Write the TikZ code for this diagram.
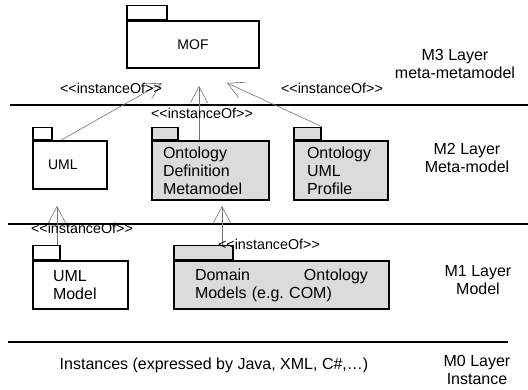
\documentclass[tikz,border=0pt]{standalone}
\usepackage{fontspec}
\setmainfont{Liberation Sans}
\usetikzlibrary{arrows.meta}
\newcommand\instof{<\kern0pt<instanceOf>\kern0pt>}
\frenchspacing

\begin{document}
\begin{tikzpicture}[x=1pt,y=-1pt]
	\tikzstyle{package}=[draw,line width=1.6pt,inner sep=0pt,fill=white,font=\fontsize{16}{18}\selectfont]
	\tikzstyle{shaded}=[fill=black!14]
	\tikzstyle{tab}=[draw,line width=1.6pt,inner sep=0pt,fill=white,anchor=south west]
	\tikzstyle{inst}=[draw,line width=0.6pt,black!55,-{Straight Barb[length=16pt,width=17pt]}]
	\tikzstyle{lbl}=[font=\fontsize{14.3}{16}\selectfont,inner sep=0pt]
	\tikzstyle{layer}=[font=\fontsize{16}{18}\selectfont,align=center,inner sep=0pt]
	\tikzstyle{sep}=[draw,line width=1.7pt]

	\useasboundingbox (0,0) rectangle (528,390);

	% M3
	\node[package,minimum width=132pt,minimum height=47pt,font=\fontsize{14}{16}\selectfont] (mof) at (193,44.5) {MOF};
	\node[tab,minimum width=40pt,minimum height=14pt] (moftab) at (mof.north west) {};

	% M2
	\node[package,minimum width=74pt,minimum height=48pt,text width=44pt,inner xsep=15pt,align=left,font=\fontsize{14}{16}\selectfont] (uml) at (70,165) {UML};
	\node[tab,minimum width=19pt,minimum height=12pt] (umltab) at (uml.north west) {};

	\node[package,shaded,minimum width=117pt,minimum height=59pt,text width=95pt,inner xsep=11pt,align=left] (odm) at (210.5,170.5) {Ontology\\Definition\\Metamodel};
	\node[tab,shaded,minimum width=26pt,minimum height=12pt] (odmtab) at (odm.north west) {};

	\node[package,shaded,minimum width=94pt,minimum height=59pt,text width=68pt,inner xsep=13pt,align=left] (oup) at (341,170.5) {Ontology\\UML\\Profile};
	\node[tab,shaded,minimum width=27pt,minimum height=12pt] (ouptab) at (oup.north west) {};

	% M1
	\node[package,minimum width=95pt,minimum height=48pt,text width=55pt,inner xsep=20pt,align=left] (umlm) at (80.5,285) {UML\\Model};
	\node[tab,minimum width=27pt,minimum height=14pt] (umlmtab) at (umlm.north west) {};

	\node[package,shaded,minimum width=215pt,minimum height=48pt,text width=173pt,inner xsep=21pt,align=left] (dom) at (281.5,285) {\makebox[173pt]{Domain\hfill Ontology}\\Models (e.g. COM)};
	\node[tab,shaded,minimum width=59pt,minimum height=14pt] (domtab) at (dom.north west) {};

	% layer borders
	\draw[sep] (10,105) -- (340,105);
	\draw[line width=1.1pt] (340,105) -- (528,105);
	\draw[sep] (8,224) -- (528,224);
	\draw[sep] (8,342) -- (508,342);

	% instanceOf arrows
	\coordinate (tipA) at (162,83);
	\coordinate (tipB) at (199,86);
	\coordinate (tipC) at (227,83);
	\coordinate (tipD) at (57,206);
	\coordinate (tipE) at (222,206);
	\draw[inst] (uml.110) -- (tipA);
	\draw[inst] (tipB |- odm.north) -- (tipB);
	\draw[inst] (ouptab.north east) -- (tipC);
	\draw[inst] (tipD |- umlmtab.north) -- (tipD);
	\draw[inst] (tipE |- domtab.north) -- (tipE);

	\node[lbl] (l1) at (111,88) {\instof};
	\node[lbl] (l2) at (202,113) {\instof};
	\node[lbl] (l3) at (332,88) {\instof};
	\node[lbl] (l4) at (82,228) {\instof};
	\node[lbl] (l5) at (269,244) {\instof};

	% layer names
	\node[layer] (m3) at (455,64) {M3 Layer\\meta-metamodel};
	\node[layer] (m2) at (467,157.5) {M2 Layer\\Meta-model};
	\node[layer] (m1) at (478,280) {M1 Layer\\Model};
	\node[layer] (m0) at (477,370) {M0 Layer\\Instance};
	\node[layer] (inst) at (214,365) {Instances (expressed by Java, XML, C\#,…)};
\end{tikzpicture}
\end{document}
